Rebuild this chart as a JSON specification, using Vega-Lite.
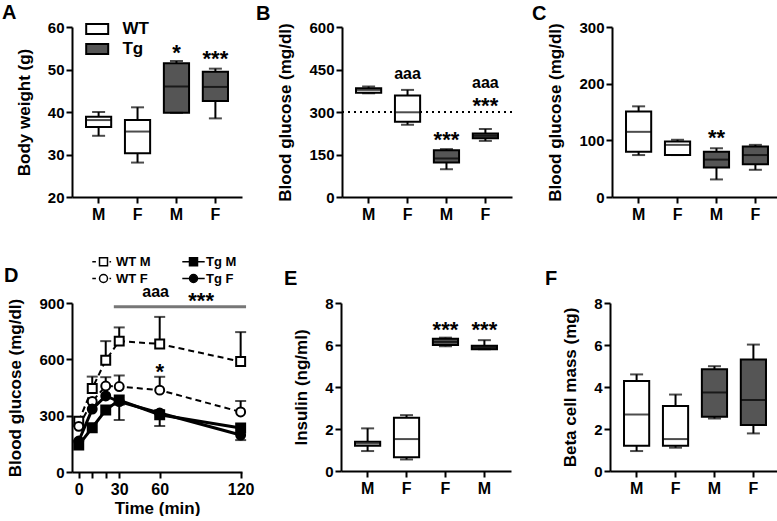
{
 "$schema": "https://vega.github.io/schema/vega-lite/v6.json",
 "padding": {"left": 2, "top": 3, "right": 0, "bottom": 0},
 "config": {
  "font": "Liberation Sans",
  "view": {"stroke": null},
  "axis": {"domainColor": "black", "domainWidth": 2, "tickColor": "black", "tickWidth": 2, "tickSize": 6, "labelColor": "black", "labelFont": "Liberation Sans", "labelFontWeight": "bold", "labelFontSize": 15, "titleFont": "Liberation Sans", "titleFontWeight": "bold", "titleFontSize": 17, "titleColor": "black", "grid": false, "labelOverlap": false},
  "axisX": {"labelFontSize": 16, "labelAngle": 0, "labelPadding": 3, "titlePadding": 3},
  "axisY": {"titlePadding": 14, "labelPadding": 2},
  "title": {"fontSize": 20, "fontWeight": "bold", "anchor": "start", "frame": "group", "color": "black", "font": "Liberation Sans"},
  "text": {"font": "Liberation Sans", "fontWeight": "bold", "color": "black", "baseline": "alphabetic"}
 },
 "spacing": 33,
 "resolve": {"scale": {"shape": "independent", "fill": "independent"}, "legend": {"shape": "independent", "fill": "independent"}},
 "vconcat": [
  {
   "hconcat": [
    {
     "width": 170, "height": 170,
     "title": {"text": "A", "dx": -70, "dy": 7, "offset": 4},
     "data": {"values": [
      {"g": "WT M", "grp": "WT", "min": 34.4, "q1": 36.5, "med": 38.1, "q3": 38.9, "max": 40.0},
      {"g": "WT F", "grp": "WT", "min": 28.1, "q1": 30.3, "med": 35.4, "q3": 38.1, "max": 41.1},
      {"g": "Tg M", "grp": "Tg", "min": 39.8, "q1": 39.8, "med": 46.0, "q3": 51.5, "max": 52.0},
      {"g": "Tg F", "grp": "Tg", "min": 38.5, "q1": 42.6, "med": 45.9, "q3": 49.5, "max": 50.2}
     ]},
     "encoding": {"x": {"field": "g", "type": "nominal", "sort": null, "scale": {"domain": ["WT M", "WT F", "Tg M", "Tg F"], "paddingInner": 0.353, "paddingOuter": 0.36}, "axis": {"title": null, "labelExpr": "substring(datum.label, 3)"}}},
     "layer": [
      {"mark": {"type": "rule", "color": "black", "strokeWidth": 2}, "encoding": {"y": {"field": "min", "type": "quantitative", "scale": {"domain": [20, 60], "nice": false, "zero": false}, "axis": {"title": "Body weight (g)", "values": [20, 30, 40, 50, 60]}}, "y2": {"field": "max"}}},
      {"mark": {"type": "bar", "stroke": "black", "strokeWidth": 2}, "encoding": {"y": {"field": "q1", "type": "quantitative"}, "y2": {"field": "q3"}, "color": {"field": "grp", "type": "nominal", "scale": {"domain": ["WT", "Tg"], "range": ["white", "#555555"]}, "legend": {"orient": "none", "legendX": 16.7, "legendY": -6.5, "title": null, "symbolType": "M-1.5,-0.68H1.5V0.68H-1.5Z", "symbolSize": 215, "symbolStrokeColor": "black", "symbolStrokeWidth": 2, "labelFontSize": 17, "labelFontWeight": "bold", "labelFont": "Liberation Sans", "labelColor": "black", "labelOffset": 16.7, "rowPadding": 1, "padding": 0}}}},
      {"mark": {"type": "tick", "color": "black", "thickness": 2, "size": 25}, "encoding": {"y": {"field": "med", "type": "quantitative"}}},
      {"mark": {"type": "tick", "color": "black", "thickness": 2, "size": 13}, "encoding": {"y": {"field": "min", "type": "quantitative"}}},
      {"mark": {"type": "tick", "color": "black", "thickness": 2, "size": 13}, "encoding": {"y": {"field": "max", "type": "quantitative"}}},
      {"data": {"values": [{"g": "Tg M", "y": 52.3, "label": "*"}, {"g": "Tg F", "y": 50.9, "label": "***"}]}, "mark": {"type": "text", "fontSize": 22}, "encoding": {"y": {"field": "y", "type": "quantitative"}, "text": {"field": "label"}}}
     ]
    },
    {
     "width": 170, "height": 170,
     "title": {"text": "B", "dx": -86, "dy": 8, "offset": 4},
     "data": {"values": [
      {"g": "WT M", "grp": "WT", "min": 366, "q1": 368, "med": 378, "q3": 384, "max": 390},
      {"g": "WT F", "grp": "WT", "min": 255, "q1": 266, "med": 299, "q3": 358, "max": 378},
      {"g": "Tg M", "grp": "Tg", "min": 98, "q1": 122, "med": 136, "q3": 165, "max": 169},
      {"g": "Tg F", "grp": "Tg", "min": 198, "q1": 207, "med": 216, "q3": 224, "max": 240}
     ]},
     "encoding": {"x": {"field": "g", "type": "nominal", "sort": null, "scale": {"domain": ["WT M", "WT F", "Tg M", "Tg F"], "paddingInner": 0.353, "paddingOuter": 0.36}, "axis": {"title": null, "labelExpr": "substring(datum.label, 3)"}}},
     "layer": [
      {"mark": {"type": "rule", "color": "black", "strokeWidth": 2}, "encoding": {"y": {"field": "min", "type": "quantitative", "scale": {"domain": [0, 600], "nice": false, "zero": false}, "axis": {"title": "Blood glucose (mg/dl)", "values": [0, 150, 300, 450, 600]}}, "y2": {"field": "max"}}},
      {"data": {"values": [{"y": 300}]}, "mark": {"type": "rule", "color": "black", "strokeWidth": 2, "strokeDash": [2, 4]}, "encoding": {"x": null, "y": {"field": "y", "type": "quantitative"}}},
      {"mark": {"type": "bar", "stroke": "black", "strokeWidth": 2}, "encoding": {"y": {"field": "q1", "type": "quantitative"}, "y2": {"field": "q3"}, "color": {"field": "grp", "type": "nominal", "scale": {"domain": ["WT", "Tg"], "range": ["white", "#555555"]}, "legend": {"orient": "none", "legendX": 22.7, "legendY": -10, "title": null, "symbolType": "M-1.5,-0.68H1.5V0.68H-1.5Z", "symbolSize": 215, "symbolStrokeColor": "black", "symbolStrokeWidth": 2, "labelFontSize": 17, "labelFontWeight": "bold", "labelFont": "Liberation Sans", "labelColor": "black", "labelOffset": 16.7, "rowPadding": 2.5, "padding": 0}}}},
      {"mark": {"type": "tick", "color": "black", "thickness": 2, "size": 25}, "encoding": {"y": {"field": "med", "type": "quantitative"}}},
      {"mark": {"type": "tick", "color": "black", "thickness": 2, "size": 13}, "encoding": {"y": {"field": "min", "type": "quantitative"}}},
      {"mark": {"type": "tick", "color": "black", "thickness": 2, "size": 13}, "encoding": {"y": {"field": "max", "type": "quantitative"}}},
      {"data": {"values": [{"g": "Tg M", "y": 175, "label": "***"}, {"g": "Tg F", "y": 298, "label": "***"}]}, "mark": {"type": "text", "fontSize": 22}, "encoding": {"y": {"field": "y", "type": "quantitative"}, "text": {"field": "label"}}},
      {"data": {"values": [{"g": "WT F", "y": 416, "label": "aaa"}, {"g": "Tg F", "y": 385, "label": "aaa"}]}, "mark": {"type": "text", "fontSize": 16}, "encoding": {"y": {"field": "y", "type": "quantitative"}, "text": {"field": "label"}}}
     ]
    },
    {
     "width": 170, "height": 170,
     "title": {"text": "C", "dx": -80, "dy": 8, "offset": 4},
     "data": {"values": [
      {"g": "WT M", "grp": "WT", "min": 74, "q1": 80, "med": 115, "q3": 151, "max": 160},
      {"g": "WT F", "grp": "WT", "min": 74, "q1": 74, "med": 92, "q3": 98, "max": 101},
      {"g": "Tg M", "grp": "Tg", "min": 31, "q1": 52, "med": 66, "q3": 80, "max": 86},
      {"g": "Tg F", "grp": "Tg", "min": 48, "q1": 58, "med": 74, "q3": 89, "max": 92}
     ]},
     "encoding": {"x": {"field": "g", "type": "nominal", "sort": null, "scale": {"domain": ["WT M", "WT F", "Tg M", "Tg F"], "paddingInner": 0.353, "paddingOuter": 0.36}, "axis": {"title": null, "labelExpr": "substring(datum.label, 3)"}}},
     "layer": [
      {"mark": {"type": "rule", "color": "black", "strokeWidth": 2}, "encoding": {"y": {"field": "min", "type": "quantitative", "scale": {"domain": [0, 300], "nice": false, "zero": false}, "axis": {"title": "Blood glucose (mg/dl)", "values": [0, 100, 200, 300]}}, "y2": {"field": "max"}}},
      {"mark": {"type": "bar", "stroke": "black", "strokeWidth": 2}, "encoding": {"y": {"field": "q1", "type": "quantitative"}, "y2": {"field": "q3"}, "color": {"field": "grp", "type": "nominal", "scale": {"domain": ["WT", "Tg"], "range": ["white", "#555555"]}, "legend": {"orient": "none", "legendX": 24.7, "legendY": -10, "title": null, "symbolType": "M-1.5,-0.68H1.5V0.68H-1.5Z", "symbolSize": 215, "symbolStrokeColor": "black", "symbolStrokeWidth": 2, "labelFontSize": 17, "labelFontWeight": "bold", "labelFont": "Liberation Sans", "labelColor": "black", "labelOffset": 16.7, "rowPadding": 3, "padding": 0}}}},
      {"mark": {"type": "tick", "color": "black", "thickness": 2, "size": 25}, "encoding": {"y": {"field": "med", "type": "quantitative"}}},
      {"mark": {"type": "tick", "color": "black", "thickness": 2, "size": 13}, "encoding": {"y": {"field": "min", "type": "quantitative"}}},
      {"mark": {"type": "tick", "color": "black", "thickness": 2, "size": 13}, "encoding": {"y": {"field": "max", "type": "quantitative"}}},
      {"data": {"values": [{"g": "Tg M", "y": 92.6, "label": "**"}]}, "mark": {"type": "text", "fontSize": 22}, "encoding": {"y": {"field": "y", "type": "quantitative"}, "text": {"field": "label"}}}
     ]
    }
   ],
   "spacing": 100,
   "bounds": "flush"
  },
  {
   "hconcat": [
    {
     "width": 170, "height": 169,
     "title": {"text": "D", "dx": -68, "dy": 35, "offset": 4},
     "data": {"values": [
      {"series": "WT M", "t": 0, "mean": 270, "err": null},
      {"series": "WT M", "t": 10, "mean": 445, "err": 508},
      {"series": "WT M", "t": 20, "mean": 595, "err": 697},
      {"series": "WT M", "t": 30, "mean": 697, "err": 770},
      {"series": "WT M", "t": 60, "mean": 682, "err": 826},
      {"series": "WT M", "t": 120, "mean": 588, "err": 745},
      {"series": "WT F", "t": 0, "mean": 243, "err": null},
      {"series": "WT F", "t": 10, "mean": 376, "err": null},
      {"series": "WT F", "t": 20, "mean": 458, "err": 505},
      {"series": "WT F", "t": 30, "mean": 455, "err": 514},
      {"series": "WT F", "t": 60, "mean": 436, "err": 507},
      {"series": "WT F", "t": 120, "mean": 320, "err": 378},
      {"series": "Tg M", "t": 0, "mean": 143, "err": null},
      {"series": "Tg M", "t": 10, "mean": 236, "err": null},
      {"series": "Tg M", "t": 20, "mean": 330, "err": null},
      {"series": "Tg M", "t": 30, "mean": 383, "err": 277},
      {"series": "Tg M", "t": 60, "mean": 305, "err": 245},
      {"series": "Tg M", "t": 120, "mean": 234, "err": null},
      {"series": "Tg F", "t": 0, "mean": 165, "err": null},
      {"series": "Tg F", "t": 10, "mean": 335, "err": null},
      {"series": "Tg F", "t": 20, "mean": 405, "err": null},
      {"series": "Tg F", "t": 30, "mean": 375, "err": null},
      {"series": "Tg F", "t": 60, "mean": 314, "err": null},
      {"series": "Tg F", "t": 120, "mean": 197, "err": 170}
     ]},
     "resolve": {"axis": {"x": "independent"}},
     "layer": [
      {"data": {"values": [{"t1": 26, "t2": 124, "y": 880}]}, "mark": {"type": "rule", "color": "#777777", "strokeWidth": 3}, "encoding": {"x": {"field": "t1", "type": "quantitative", "scale": {"domain": [-5, 121], "nice": false, "zero": false}, "axis": {"title": "Time (min)", "orient": "bottom", "values": [0, 30, 60, 120], "labelOverlap": false, "labelFlush": false, "labelBound": false}}, "x2": {"field": "t2"}, "y": {"field": "y", "type": "quantitative", "scale": {"domain": [0, 900], "nice": false, "zero": false}, "axis": {"title": "Blood glucose (mg/dl)", "values": [0, 300, 600, 900]}}}},
      {"data": {"values": [{"t": 57, "y": 932, "label": "aaa"}]}, "mark": {"type": "text", "fontSize": 16}, "encoding": {"x": {"field": "t", "type": "quantitative", "axis": null}, "y": {"field": "y", "type": "quantitative"}, "text": {"field": "label"}}},
      {"data": {"values": [{"t": 90.7, "y": 876, "label": "***"}, {"t": 60, "y": 495, "label": "*"}]}, "mark": {"type": "text", "fontSize": 22}, "encoding": {"x": {"field": "t", "type": "quantitative", "axis": null}, "y": {"field": "y", "type": "quantitative"}, "text": {"field": "label"}}},
      {"transform": [{"filter": "isValid(datum.err)"}], "mark": {"type": "rule", "color": "black", "strokeWidth": 2}, "encoding": {"x": {"field": "t", "type": "quantitative", "axis": null}, "y": {"field": "mean", "type": "quantitative"}, "y2": {"field": "err"}}},
      {"transform": [{"filter": "isValid(datum.err)"}], "mark": {"type": "tick", "orient": "horizontal", "color": "black", "thickness": 2, "size": 11}, "encoding": {"x": {"field": "t", "type": "quantitative", "axis": null}, "y": {"field": "err", "type": "quantitative"}}},
      {"transform": [{"filter": "datum.series == 'WT M' || datum.series == 'WT F'"}], "mark": {"type": "line", "color": "black", "strokeWidth": 2, "strokeDash": [6, 4]}, "encoding": {"x": {"field": "t", "type": "quantitative", "axis": null}, "y": {"field": "mean", "type": "quantitative"}, "detail": {"field": "series"}}},
      {"transform": [{"filter": "datum.series == 'Tg M' || datum.series == 'Tg F'"}], "mark": {"type": "line", "color": "black", "strokeWidth": 3}, "encoding": {"x": {"field": "t", "type": "quantitative", "axis": null}, "y": {"field": "mean", "type": "quantitative"}, "detail": {"field": "series"}}},
      {"transform": [{"filter": "datum.series == 'WT M'"}], "mark": {"type": "point", "shape": "square", "filled": true, "fill": "white", "stroke": "black", "strokeWidth": 2, "size": 80, "opacity": 1}, "encoding": {"x": {"field": "t", "type": "quantitative", "axis": null}, "y": {"field": "mean", "type": "quantitative"}}},
      {"transform": [{"filter": "datum.series == 'WT F'"}], "mark": {"type": "point", "shape": "circle", "filled": true, "fill": "white", "stroke": "black", "strokeWidth": 2, "size": 80, "opacity": 1}, "encoding": {"x": {"field": "t", "type": "quantitative", "axis": null}, "y": {"field": "mean", "type": "quantitative"}}},
      {"transform": [{"filter": "datum.series == 'Tg M'"}], "mark": {"type": "point", "shape": "square", "filled": true, "fill": "black", "stroke": "black", "strokeWidth": 2, "size": 80, "opacity": 1}, "encoding": {"x": {"field": "t", "type": "quantitative", "axis": null}, "y": {"field": "mean", "type": "quantitative"}}},
      {"transform": [{"filter": "datum.series == 'Tg F'"}], "mark": {"type": "point", "shape": "circle", "filled": true, "fill": "black", "stroke": "black", "strokeWidth": 2, "size": 80, "opacity": 1}, "encoding": {"x": {"field": "t", "type": "quantitative", "axis": null}, "y": {"field": "mean", "type": "quantitative"}}},
      {"transform": [{"filter": "false"}], "mark": {"type": "point", "filled": true, "stroke": "black", "strokeWidth": 1.5, "opacity": 1}, "encoding": {
        "x": {"field": "t", "type": "quantitative", "axis": {"orient": "bottom", "values": [10, 20], "labels": false, "domain": false, "title": null, "grid": false}},
        "y": {"field": "mean", "type": "quantitative"},
        "shape": {"field": "series", "type": "nominal", "scale": {"domain": ["WT M", "WT F", "Tg M", "Tg F"], "range": ["M-2.8,0H-1.9M1.5,0H1.9M-1,-1H1V1H-1Z", "M-2.8,0H-1.9M1.5,0H1.9M-1,0A1,1,0,1,1,1,0A1,1,0,1,1,-1,0Z", "M-2.8,0H2.8M-1,-1H1V1H-1Z", "M-2.8,0H2.8M-1,0A1,1,0,1,1,1,0A1,1,0,1,1,-1,0Z"]}, "legend": {"orient": "none", "legendX": 25, "legendY": -48, "title": null, "columns": 2, "symbolSize": 64, "labelFontSize": 13, "labelFontWeight": "bold", "labelFont": "Liberation Sans", "labelColor": "black", "labelOffset": 6, "columnPadding": 28, "rowPadding": 2, "padding": 0, "encode": {"symbols": {"update": {"stroke": {"value": "black"}, "strokeWidth": {"value": 1.5}, "opacity": {"value": 1}}}}}},
        "fill": {"field": "series", "type": "nominal", "scale": {"domain": ["WT M", "WT F", "Tg M", "Tg F"], "range": ["white", "white", "black", "black"]}, "legend": {"orient": "none", "legendX": 25, "legendY": -48, "title": null, "columns": 2, "symbolSize": 64, "labelFontSize": 13, "labelFontWeight": "bold", "labelFont": "Liberation Sans", "labelColor": "black", "labelOffset": 6, "columnPadding": 28, "rowPadding": 2, "padding": 0, "encode": {"symbols": {"update": {"stroke": {"value": "black"}, "strokeWidth": {"value": 1.5}, "opacity": {"value": 1}}}}}}
      }}
     ]
    },
    {
     "width": 170, "height": 168,
     "title": {"text": "E", "dx": -57, "dy": -3, "offset": 4},
     "data": {"values": [
      {"g": "WT M", "grp": "WT", "min": 0.95, "q1": 1.2, "med": 1.31, "q3": 1.39, "max": 2.03},
      {"g": "WT F", "grp": "WT", "min": 0.55, "q1": 0.65, "med": 1.52, "q3": 2.54, "max": 2.66},
      {"g": "Tg F", "grp": "Tg", "min": 5.94, "q1": 6.0, "med": 6.15, "q3": 6.3, "max": 6.35},
      {"g": "Tg M", "grp": "Tg", "min": 5.8, "q1": 5.8, "med": 5.88, "q3": 5.96, "max": 6.23}
     ]},
     "encoding": {"x": {"field": "g", "type": "nominal", "sort": null, "scale": {"domain": ["WT M", "WT F", "Tg F", "Tg M"], "paddingInner": 0.353, "paddingOuter": 0.36}, "axis": {"title": null, "labelExpr": "substring(datum.label, 3)"}}},
     "layer": [
      {"mark": {"type": "rule", "color": "black", "strokeWidth": 2}, "encoding": {"y": {"field": "min", "type": "quantitative", "scale": {"domain": [0, 8], "nice": false, "zero": false}, "axis": {"title": "Insulin (ng/ml)", "values": [0, 2, 4, 6, 8]}}, "y2": {"field": "max"}}},
      {"mark": {"type": "bar", "stroke": "black", "strokeWidth": 2}, "encoding": {"y": {"field": "q1", "type": "quantitative"}, "y2": {"field": "q3"}, "color": {"field": "grp", "type": "nominal", "scale": {"domain": ["WT", "Tg"], "range": ["white", "#555555"]}, "legend": {"orient": "none", "legendX": 15.7, "legendY": -13, "title": null, "symbolType": "M-1.5,-0.68H1.5V0.68H-1.5Z", "symbolSize": 215, "symbolStrokeColor": "black", "symbolStrokeWidth": 2, "labelFontSize": 17, "labelFontWeight": "bold", "labelFont": "Liberation Sans", "labelColor": "black", "labelOffset": 16.7, "rowPadding": 0, "padding": 0}}}},
      {"mark": {"type": "tick", "color": "black", "thickness": 2, "size": 25}, "encoding": {"y": {"field": "med", "type": "quantitative"}}},
      {"mark": {"type": "tick", "color": "black", "thickness": 2, "size": 13}, "encoding": {"y": {"field": "min", "type": "quantitative"}}},
      {"mark": {"type": "tick", "color": "black", "thickness": 2, "size": 13}, "encoding": {"y": {"field": "max", "type": "quantitative"}}},
      {"data": {"values": [{"g": "Tg F", "y": 6.4, "label": "***"}, {"g": "Tg M", "y": 6.4, "label": "***"}]}, "mark": {"type": "text", "fontSize": 22}, "encoding": {"y": {"field": "y", "type": "quantitative"}, "text": {"field": "label"}}}
     ]
    },
    {
     "width": 170, "height": 168,
     "title": {"text": "F", "dx": -65, "dy": -3, "offset": 4},
     "data": {"values": [
      {"g": "WT M", "grp": "WT", "min": 0.95, "q1": 1.2, "med": 2.69, "q3": 4.28, "max": 4.6},
      {"g": "WT F", "grp": "WT", "min": 1.11, "q1": 1.2, "med": 1.52, "q3": 3.09, "max": 3.64},
      {"g": "Tg M", "grp": "Tg", "min": 2.5, "q1": 2.58, "med": 3.74, "q3": 4.85, "max": 4.99},
      {"g": "Tg F", "grp": "Tg", "min": 1.79, "q1": 2.19, "med": 3.38, "q3": 5.31, "max": 6.02}
     ]},
     "encoding": {"x": {"field": "g", "type": "nominal", "sort": null, "scale": {"domain": ["WT M", "WT F", "Tg M", "Tg F"], "paddingInner": 0.353, "paddingOuter": 0.36}, "axis": {"title": null, "labelExpr": "substring(datum.label, 3)"}}},
     "layer": [
      {"mark": {"type": "rule", "color": "black", "strokeWidth": 2}, "encoding": {"y": {"field": "min", "type": "quantitative", "scale": {"domain": [0, 8], "nice": false, "zero": false}, "axis": {"title": "Beta cell mass (mg)", "values": [0, 2, 4, 6, 8]}}, "y2": {"field": "max"}}},
      {"mark": {"type": "bar", "stroke": "black", "strokeWidth": 2}, "encoding": {"y": {"field": "q1", "type": "quantitative"}, "y2": {"field": "q3"}, "color": {"field": "grp", "type": "nominal", "scale": {"domain": ["WT", "Tg"], "range": ["white", "#555555"]}, "legend": {"orient": "none", "legendX": 23.7, "legendY": -11, "title": null, "symbolType": "M-1.5,-0.68H1.5V0.68H-1.5Z", "symbolSize": 215, "symbolStrokeColor": "black", "symbolStrokeWidth": 2, "labelFontSize": 17, "labelFontWeight": "bold", "labelFont": "Liberation Sans", "labelColor": "black", "labelOffset": 16.7, "rowPadding": 2, "padding": 0}}}},
      {"mark": {"type": "tick", "color": "black", "thickness": 2, "size": 25}, "encoding": {"y": {"field": "med", "type": "quantitative"}}},
      {"mark": {"type": "tick", "color": "black", "thickness": 2, "size": 13}, "encoding": {"y": {"field": "min", "type": "quantitative"}}},
      {"mark": {"type": "tick", "color": "black", "thickness": 2, "size": 13}, "encoding": {"y": {"field": "max", "type": "quantitative"}}}
     ]
    }
   ],
   "spacing": 99,
   "bounds": "flush",
   "resolve": {"scale": {"shape": "independent", "fill": "independent"}, "legend": {"shape": "independent", "fill": "independent"}}
  }
 ]
}
